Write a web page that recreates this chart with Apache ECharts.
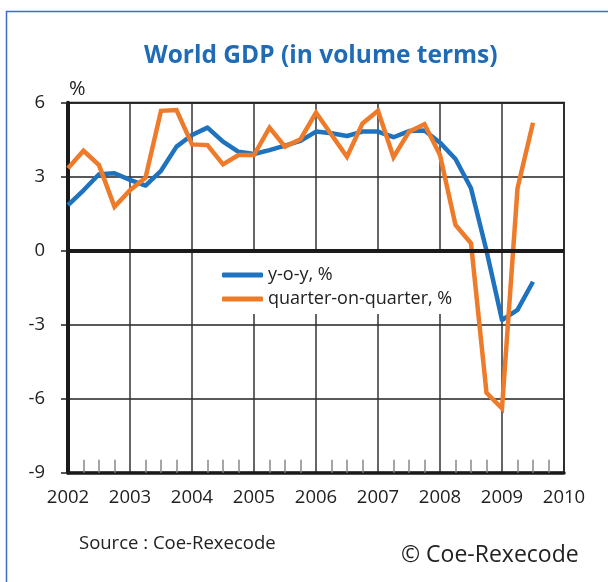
<!DOCTYPE html>
<html>
<head>
<meta charset="utf-8">
<script src="https://cdn.jsdelivr.net/npm/echarts@6/dist/echarts.min.js"></script>
<style>html,body{margin:0;padding:0;background:#fff;}#c{width:608px;height:582px;}</style>
</head>
<body>
<div id="c"></div>
<script>
var quarters = [2002, 2002.25, 2002.5, 2002.75, 2003, 2003.25, 2003.5, 2003.75,
  2004, 2004.25, 2004.5, 2004.75, 2005, 2005.25, 2005.5, 2005.75,
  2006, 2006.25, 2006.5, 2006.75, 2007, 2007.25, 2007.5, 2007.75,
  2008, 2008.25, 2008.5, 2008.75, 2009, 2009.25, 2009.5];
var yoy = [1.85, 2.45, 3.1, 3.14, 2.87, 2.64, 3.24, 4.22,
  4.69, 4.99, 4.42, 4.01, 3.92, 4.08, 4.26, 4.45,
  4.83, 4.76, 4.65, 4.83, 4.83, 4.6, 4.85, 4.87,
  4.38, 3.72, 2.53, 0.0, -2.81, -2.4, -1.26];
var qoq = [3.34, 4.05, 3.47, 1.78, 2.45, 2.96, 5.67, 5.7,
  4.31, 4.28, 3.5, 3.88, 3.88, 4.99, 4.22, 4.52,
  5.6, 4.7, 3.81, 5.16, 5.67, 3.79, 4.82, 5.13,
  3.88, 1.04, 0.3, -5.76, -6.39, 2.53, 5.19];
var seriesNames = ['y-o-y, %', 'quarter-on-quarter, %'];
var titleText = 'World GDP (in volume terms)';
var unitText = '%';
var sourceText = 'Source : Coe-Rexecode';
var copyrightText = '\u00A9 Coe-Rexecode';

function pairs(xs, ys) { return xs.map(function (x, i) { return [x, ys[i]]; }); }

var FONT = 'Open Sans';
var chart = echarts.init(document.getElementById('c'), null, { renderer: 'canvas' });
chart.setOption({
  animation: false,
  backgroundColor: '#fff',
  textStyle: { fontFamily: FONT },
  title: {
    text: titleText, left: 139, top: 39,
    textStyle: { color: '#1f6bb6', fontSize: 24.5, fontWeight: 'bold', fontFamily: FONT }
  },
  grid: { left: 68, right: 44, top: 102.7, bottom: 109.3, show: true, borderColor: '#222', borderWidth: 2 },
  legend: {
    data: seriesNames,
    orient: 'vertical', left: 218, top: 250,
    padding: [16, 6, 6, 4], itemGap: 6,
    itemWidth: 41, itemHeight: 5, icon: 'roundRect',
    backgroundColor: '#fff',
    textStyle: { fontSize: 18, color: '#222', fontFamily: FONT }
  },
  xAxis: {
    type: 'value', min: 2002, max: 2010, interval: 1,
    axisLine: { show: true, onZero: false, lineStyle: { color: '#1a1a1a', width: 3.5 } },
    axisTick: { show: false, inside: true },
    minorTick: { show: true, splitNumber: 4, length: 13, lineStyle: { color: '#888', width: 1.5 } },
    splitLine: { show: true, lineStyle: { color: '#333', width: 1.5 } },
    axisLabel: { fontSize: 18.5, color: '#222', margin: 16, formatter: function (v) { return String(v); } }
  },
  yAxis: {
    type: 'value', min: -9, max: 6, interval: 3,
    axisLine: { show: true, onZero: false, lineStyle: { color: '#1a1a1a', width: 4 } },
    axisTick: { show: true, length: 7, lineStyle: { color: '#222', width: 1.5 } },
    splitLine: { show: true, lineStyle: { color: '#222', width: 1.5 } },
    axisLabel: { fontSize: 18.5, color: '#222', margin: 23 }
  },
  series: [
    {
      name: 'zero', type: 'line', data: [], z: 1, silent: true,
      markLine: {
        silent: true, symbol: 'none', label: { show: false },
        lineStyle: { color: '#1a1a1a', width: 4, type: 'solid' },
        data: [{ yAxis: 0 }]
      }
    },
    {
      name: seriesNames[0], type: 'line', data: pairs(quarters, yoy), z: 3,
      showSymbol: false, symbol: 'none', color: '#1f73be',
      lineStyle: { width: 4.5, color: '#1f73be', join: 'round' }
    },
    {
      name: seriesNames[1], type: 'line', data: pairs(quarters, qoq), z: 4,
      showSymbol: false, symbol: 'none', color: '#ee7b2a',
      lineStyle: { width: 4.5, color: '#ee7b2a', join: 'miter' }
    }
  ],
  graphic: [
    { type: 'rect', left: 4, top: 9, shape: { width: 640, height: 620 }, silent: true, z: -10,
      style: { fill: null, stroke: '#3a6cc4', lineWidth: 1.5 } },
    { type: 'text', left: 69, top: 79, style: { text: unitText, fontSize: 20, fill: '#222', fontFamily: FONT } },
    { type: 'text', left: 79, top: 534, style: { text: sourceText, fontSize: 18.5, fill: '#222', fontFamily: FONT } },
    { type: 'text', left: 401, top: 544, style: { text: copyrightText, fontSize: 23, fill: '#222', fontFamily: FONT } }
  ]
});
</script>
</body>
</html>
